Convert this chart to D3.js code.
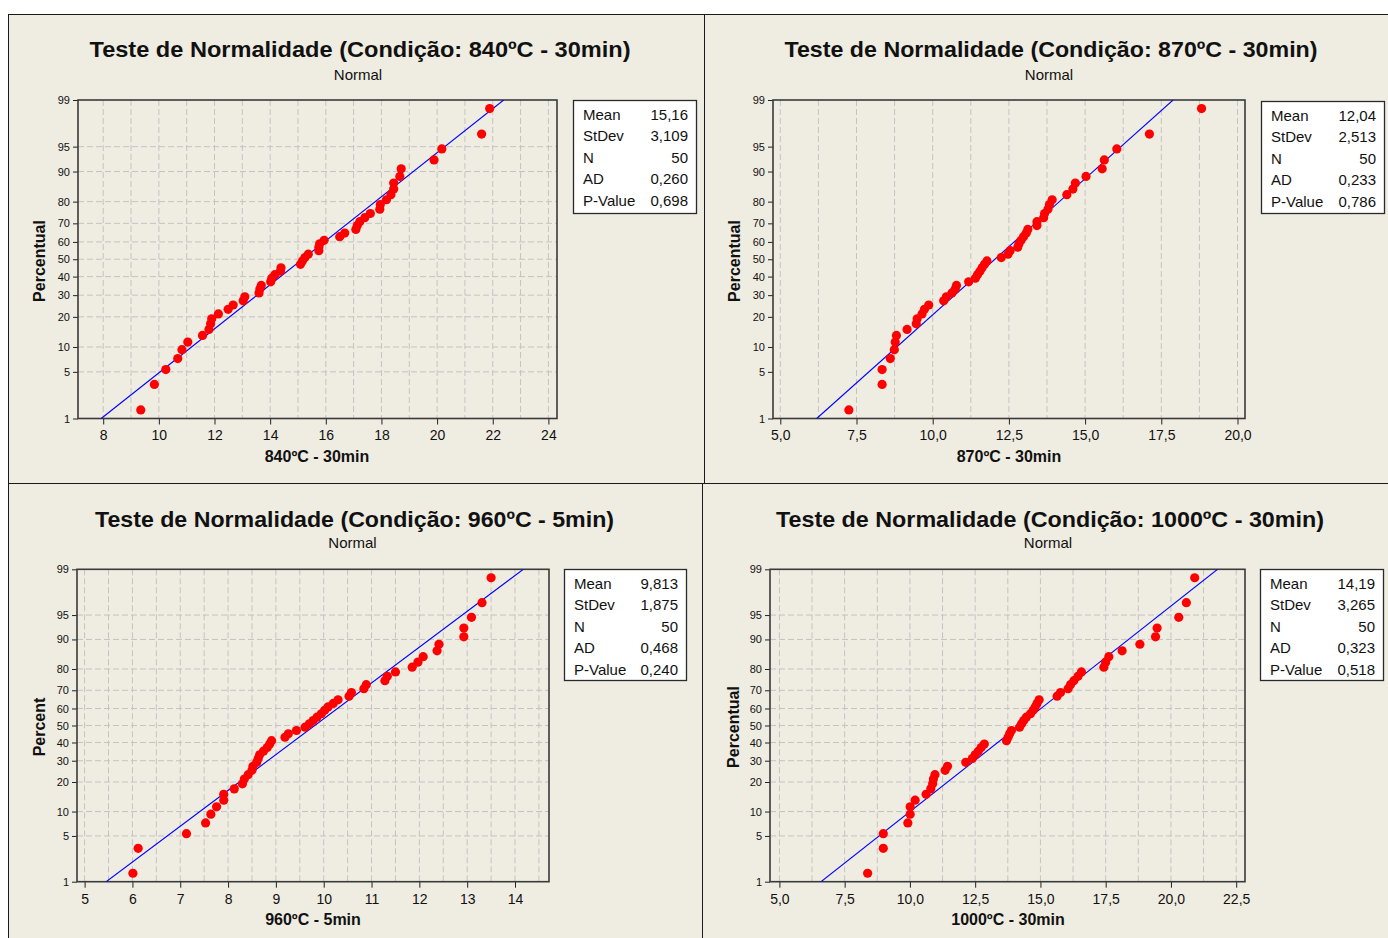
<!DOCTYPE html>
<html>
<head>
<meta charset="utf-8">
<script src="https://cdnjs.cloudflare.com/ajax/libs/d3/7.8.5/d3.min.js"></script>
<style>
  body { margin: 0; background: #fff; }
  svg { display: block; }
  text { font-family: "Liberation Sans", Arial, sans-serif; fill: #111; }
</style>
</head>
<body>
<svg id="chart" width="1388" height="938"></svg>
<script>

var data840 = [9.35, 9.84, 10.25, 10.68, 10.83, 11.04, 11.57, 11.80, 11.86, 11.90,
  12.14, 12.49, 12.67, 13.03, 13.09, 13.60, 13.63, 13.68, 14.02, 14.06,
  14.17, 14.37, 14.39, 15.09, 15.16, 15.25, 15.37, 15.75, 15.75, 15.78,
  15.94, 16.50, 16.68, 17.08, 17.13, 17.22, 17.40, 17.60, 17.94, 17.96,
  18.18, 18.34, 18.44, 18.44, 18.66, 18.71, 19.89, 20.17, 21.60, 21.89];

var data870 = [7.25, 8.34, 8.34, 8.61, 8.74, 8.77, 8.81, 9.16, 9.46, 9.49,
  9.65, 9.73, 9.87, 10.36, 10.45, 10.63, 10.74, 10.78, 11.18, 11.40,
  11.47, 11.55, 11.62, 11.70, 11.78, 12.25, 12.47, 12.54, 12.79, 12.83,
  12.90, 12.98, 13.07, 13.12, 13.42, 13.42, 13.64, 13.67, 13.78, 13.83,
  13.92, 14.40, 14.60, 14.68, 15.03, 15.56, 15.63, 16.04, 17.11, 18.82];

var data960 = [6.01, 6.12, 7.13, 7.53, 7.64, 7.76, 7.91, 7.91, 8.13, 8.30,
  8.34, 8.42, 8.50, 8.52, 8.60, 8.63, 8.66, 8.74, 8.82, 8.87,
  8.91, 9.19, 9.26, 9.43, 9.61, 9.70, 9.78, 9.86, 9.95, 10.02,
  10.09, 10.20, 10.30, 10.53, 10.58, 10.84, 10.89, 11.28, 11.33, 11.50,
  11.85, 11.97, 12.08, 12.37, 12.41, 12.93, 12.93, 13.09, 13.31, 13.50];

var data1000 = [8.38, 8.98, 8.98, 9.92, 10.01, 10.01, 10.20, 10.62, 10.80, 10.87,
  10.90, 10.96, 11.35, 11.44, 12.14, 12.39, 12.50, 12.62, 12.73, 12.85,
  13.70, 13.76, 13.82, 13.89, 14.20, 14.28, 14.36, 14.46, 14.62, 14.72,
  14.80, 14.87, 14.95, 15.64, 15.77, 16.06, 16.15, 16.28, 16.44, 16.57,
  17.43, 17.50, 17.62, 18.13, 18.81, 19.41, 19.47, 20.30, 20.59, 20.91];

var means = [15.16, 12.04, 9.813, 14.19];
var stdevs = [3.109, 2.513, 1.875, 3.265];

var statLabels = ["Mean", "StDev", "N", "AD", "P-Value"];
var stats840 = ["15,16", "3,109", "50", "0,260", "0,698"];
var stats870 = ["12,04", "2,513", "50", "0,233", "0,786"];
var stats960 = ["9,813", "1,875", "50", "0,468", "0,240"];
var stats1000 = ["14,19", "3,265", "50", "0,323", "0,518"];

var titles = ["Teste de Normalidade (Condição: 840ºC - 30min)",
  "Teste de Normalidade (Condição: 870ºC - 30min)",
  "Teste de Normalidade (Condição: 960ºC - 5min)",
  "Teste de Normalidade (Condição: 1000ºC - 30min)"];
var xLabels = ["840ºC - 30min", "870ºC - 30min", "960ºC - 5min", "1000ºC - 30min"];
var yLabels = ["Percentual", "Percentual", "Percent", "Percentual"];

var pctTicks = [1, 5, 10, 20, 30, 40, 50, 60, 70, 80, 90, 95, 99];
var pctGrid = [5, 10, 20, 30, 40, 50, 60, 70, 80, 90, 95];

var xTicks840 = [8, 10, 12, 14, 16, 18, 20, 22, 24];
var xTicks870 = [5, 7.5, 10, 12.5, 15, 17.5, 20];
var xTicks960 = [5, 6, 7, 8, 9, 10, 11, 12, 13, 14];
var xTicks1000 = [5, 7.5, 10, 12.5, 15, 17.5, 20, 22.5];

// --- layout (pixels) ---
var layout = [
  {L: 78, R: 557, T: 100, B: 418.5, px0: 103.2, px1: 548.4, grid: [8, 24, 1], hgrid: true, decimals: 0,
   box: [573, 100, 696, 213], tx: 360, ty: 57, tw: 541, sy: 80, xl: 317, xly: 461.5, yl: 45, ylc: 261},
  {L: 773, R: 1245, T: 100, B: 418.5, px0: 780.3, px1: 1237.5, grid: [5, 20, 1.25], hgrid: false, decimals: 1,
   box: [1261, 101, 1384, 213], tx: 1051, ty: 57, tw: 533, sy: 80, xl: 1009, xly: 461.5, yl: 740, ylc: 261},
  {L: 77, R: 549, T: 569.3, B: 881.7, px0: 84.6, px1: 515, grid: [5, 14.5, 0.5], hgrid: true, decimals: 0,
   box: [564, 569, 686, 680], tx: 354.5, ty: 527, tw: 519, sy: 548, xl: 313, xly: 925, yl: 45, ylc: 727},
  {L: 770, R: 1245, T: 569.3, B: 881.7, px0: 779.4, px1: 1236.2, grid: [5, 22.5, 1.25], hgrid: true, decimals: 1,
   box: [1260, 569, 1383, 680], tx: 1050, ty: 527, tw: 548, sy: 548, xl: 1008, xly: 925, yl: 739, ylc: 727}
];

var datasets = [data840, data870, data960, data1000];
var statsets = [stats840, stats870, stats960, stats1000];
var tickSets = [xTicks840, xTicks870, xTicks960, xTicks1000];

// inverse normal CDF (Acklam)
function qnorm(p) {
  var a = [-3.969683028665376e+01, 2.209460984245205e+02, -2.759285104469687e+02, 1.383577518672690e+02, -3.066479806614716e+01, 2.506628277459239e+00];
  var b = [-5.447609879822406e+01, 1.615858368580409e+02, -1.556989798598866e+02, 6.680131188771972e+01, -1.328068155288572e+01];
  var c = [-7.784894002430293e-03, -3.223964580411365e-01, -2.400758277161838e+00, -2.549732539343734e+00, 4.374664141464968e+00, 2.938163982698783e+00];
  var d = [7.784695709041462e-03, 3.224671290700398e-01, 2.445134137142996e+00, 3.754408661907416e+00];
  var pl = 0.02425, q, r;
  if (p < pl) {
    q = Math.sqrt(-2 * Math.log(p));
    return (((((c[0]*q+c[1])*q+c[2])*q+c[3])*q+c[4])*q+c[5]) / ((((d[0]*q+d[1])*q+d[2])*q+d[3])*q+1);
  }
  if (p <= 1 - pl) {
    q = p - 0.5; r = q * q;
    return (((((a[0]*r+a[1])*r+a[2])*r+a[3])*r+a[4])*r+a[5])*q / (((((b[0]*r+b[1])*r+b[2])*r+b[3])*r+b[4])*r+1);
  }
  q = Math.sqrt(-2 * Math.log(1 - p));
  return -(((((c[0]*q+c[1])*q+c[2])*q+c[3])*q+c[4])*q+c[5]) / ((((d[0]*q+d[1])*q+d[2])*q+d[3])*q+1);
}

var svg = d3.select("#chart");
var bg = "#efece2";

// background panels + divider lines
svg.append("rect").attr("x", 8).attr("y", 14).attr("width", 1380).attr("height", 924).attr("fill", bg);
var frame = svg.append("g").attr("stroke", "#1a1a1a").attr("stroke-width", 1).attr("fill", "none");
frame.append("line").attr("x1", 8).attr("x2", 1388).attr("y1", 14.5).attr("y2", 14.5);
frame.append("line").attr("x1", 8.5).attr("x2", 8.5).attr("y1", 14).attr("y2", 938);
frame.append("line").attr("x1", 8).attr("x2", 1388).attr("y1", 483.5).attr("y2", 483.5);
frame.append("line").attr("x1", 704.5).attr("x2", 704.5).attr("y1", 14).attr("y2", 483);
frame.append("line").attr("x1", 702.5).attr("x2", 702.5).attr("y1", 483).attr("y2", 938);

var fmt0 = d3.format("d");
var fmt1 = function(v) { return d3.format(".1f")(v).replace(".", ","); };

layout.forEach(function(lay, k) {
  var data = datasets[k];
  var n = data.length;
  var g = svg.append("g");

  var x = d3.scaleLinear()
    .domain([tickSets[k][0], tickSets[k][tickSets[k].length - 1]])
    .range([lay.px0, lay.px1]);
  var y = d3.scaleLinear().domain([qnorm(0.01), qnorm(0.99)]).range([lay.B, lay.T]);

  var clipId = "clip" + k;
  g.append("clipPath").attr("id", clipId).append("rect")
    .attr("x", lay.L).attr("y", lay.T).attr("width", lay.R - lay.L).attr("height", lay.B - lay.T);

  // grid
  var gx = d3.range(lay.grid[0], lay.grid[1] + 1e-9, lay.grid[2]);
  g.append("g").selectAll("line").data(gx).enter().append("line")
    .attr("x1", function(d) { return x(d); }).attr("x2", function(d) { return x(d); })
    .attr("y1", lay.T).attr("y2", lay.B)
    .attr("stroke", "#c3c3c3").attr("stroke-width", 1).attr("stroke-dasharray", "6,3");
  if (lay.hgrid) {
    g.append("g").selectAll("line").data(pctGrid).enter().append("line")
      .attr("x1", lay.L).attr("x2", lay.R)
      .attr("y1", function(d) { return y(qnorm(d / 100)); }).attr("y2", function(d) { return y(qnorm(d / 100)); })
      .attr("stroke", "#c3c3c3").attr("stroke-width", 1).attr("stroke-dasharray", "6,3");
  }

  // axes
  var xAxis = g.append("g").attr("transform", "translate(0," + lay.B + ")")
    .call(d3.axisBottom(x).tickValues(tickSets[k]).tickSize(6).tickPadding(6)
      .tickFormat(lay.decimals ? fmt1 : fmt0));
  xAxis.select(".domain").remove();
  xAxis.attr("font-family", null).selectAll("text").attr("font-size", 14).attr("fill", "#222");
  xAxis.selectAll("line").attr("stroke", "#222");

  var yAxis = g.append("g").attr("transform", "translate(" + lay.L + ",0)")
    .call(d3.axisLeft(y).tickValues(pctTicks.map(function(p) { return qnorm(p / 100); }))
      .tickSize(5).tickPadding(3).tickFormat(function(d, i) { return pctTicks[i]; }));
  yAxis.select(".domain").remove();
  yAxis.attr("font-family", null).selectAll("text").attr("font-size", 11).attr("fill", "#222");
  yAxis.selectAll("line").attr("stroke", "#222");

  // plot frame
  g.append("rect").attr("x", lay.L).attr("y", lay.T).attr("width", lay.R - lay.L).attr("height", lay.B - lay.T)
    .attr("fill", "none").attr("stroke", "#3a3a3a").attr("stroke-width", 1.6);

  // fitted line
  var zLo = qnorm(0.01), zHi = qnorm(0.99);
  g.append("line").attr("clip-path", "url(#" + clipId + ")")
    .attr("x1", x(means[k] + stdevs[k] * zLo)).attr("y1", y(zLo))
    .attr("x2", x(means[k] + stdevs[k] * zHi)).attr("y2", y(zHi))
    .attr("stroke", "#0000ff").attr("stroke-width", 1.1);

  // points at median-rank plotting positions
  g.append("g").selectAll("circle").data(data).enter().append("circle")
    .attr("cx", function(d) { return x(d); })
    .attr("cy", function(d, i) { return y(qnorm((i + 1 - 0.3) / (n + 0.4))); })
    .attr("r", 4.6).attr("fill", "#ff0000");

  // titles
  g.append("text").attr("x", lay.tx).attr("y", lay.ty).attr("text-anchor", "middle")
    .attr("font-size", 22).attr("font-weight", "bold")
    .attr("textLength", lay.tw).attr("lengthAdjust", "spacingAndGlyphs")
    .text(titles[k]);
  g.append("text").attr("x", lay.tx - 2).attr("y", lay.sy).attr("text-anchor", "middle")
    .attr("font-size", 15).text("Normal");
  g.append("text").attr("x", lay.xl).attr("y", lay.xly).attr("text-anchor", "middle")
    .attr("font-size", 16).attr("font-weight", "bold").text(xLabels[k]);
  g.append("text").attr("transform", "translate(" + lay.yl + "," + lay.ylc + ") rotate(-90)")
    .attr("text-anchor", "middle").attr("font-size", 16).attr("font-weight", "bold").text(yLabels[k]);

  // stats box
  var bx = lay.box;
  g.append("rect").attr("x", bx[0] + 0.5).attr("y", bx[1] + 0.5).attr("width", bx[2] - bx[0]).attr("height", bx[3] - bx[1])
    .attr("fill", "#ffffff").attr("stroke", "#2a2a2a").attr("stroke-width", 1.3);
  var rows = g.append("g").selectAll("g").data(statLabels).enter().append("g");
  rows.append("text").attr("x", bx[0] + 10).attr("y", function(d, i) { return bx[1] + 20 + i * 21.4; })
    .attr("font-size", 15).text(function(d) { return d; });
  rows.append("text").attr("x", bx[2] - 8).attr("y", function(d, i) { return bx[1] + 20 + i * 21.4; })
    .attr("text-anchor", "end").attr("font-size", 15).text(function(d, i) { return statsets[k][i]; });
});

</script>
</body>
</html>
